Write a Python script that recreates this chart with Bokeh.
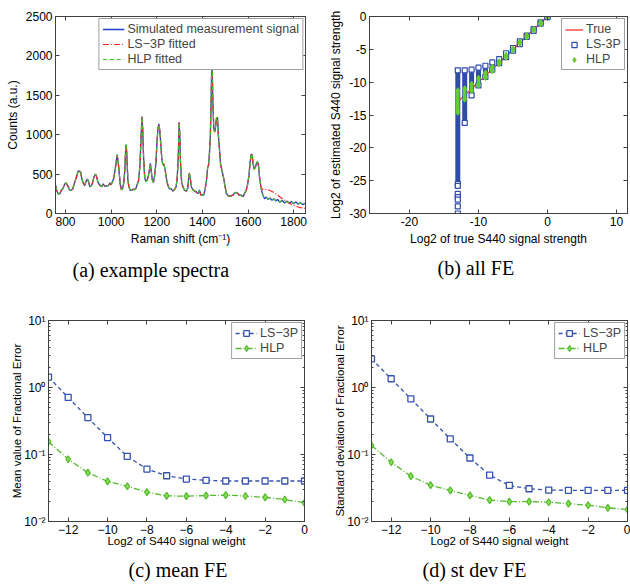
from bokeh.plotting import figure
from bokeh.layouts import column, row
from bokeh.models import (Legend, LegendItem, FixedTicker, CustomJSTickFormatter,
                          LinearAxis, LogAxis)
from bokeh.embed import file_html
from bokeh.resources import INLINE

SANS = "Liberation Sans"
SERIF = "Liberation Serif"

# ---------------- (a) example spectra ----------------
raman_shift = [
    756, 762, 768, 775, 782, 790, 797, 803, 810, 818,
    825, 832, 840, 848, 855, 860, 866, 872, 878, 884,
    890, 895, 900, 906, 912, 918, 925, 930, 935, 942,
    950, 958, 965, 972, 980, 988, 995, 1000, 1006, 1012,
    1018, 1022, 1026, 1030, 1035, 1040, 1045, 1050, 1055, 1060,
    1064, 1066, 1069, 1073, 1078, 1084, 1090, 1096, 1102, 1108,
    1114, 1120, 1126, 1131, 1135, 1138, 1142, 1147, 1152, 1158,
    1164, 1169, 1172, 1176, 1180, 1185, 1190, 1196, 1201, 1205,
    1209, 1213, 1218, 1222, 1226, 1231, 1236, 1242, 1248, 1255,
    1262, 1270, 1278, 1284, 1289, 1294, 1298, 1301, 1304, 1309,
    1315, 1322, 1330, 1336, 1340, 1343, 1347, 1352, 1358, 1365,
    1372, 1380, 1387, 1393, 1400, 1406, 1412, 1418, 1423, 1427,
    1431, 1435, 1438, 1441, 1443, 1446, 1450, 1454, 1458, 1462,
    1466, 1470, 1475, 1480, 1486, 1492, 1498, 1505, 1512, 1520,
    1528, 1535, 1542, 1548, 1555, 1562, 1570, 1578, 1585, 1592,
    1598, 1604, 1609, 1614, 1618, 1622, 1627, 1632, 1638, 1642,
    1646, 1650, 1655, 1660, 1666, 1672, 1680, 1688, 1696, 1705,
    1714, 1722, 1730, 1740, 1750, 1760, 1770, 1780, 1790, 1800,
    1810, 1820, 1830, 1840, 1850,
]
measured_signal = [
    362, 282, 250, 248, 298, 322, 378, 384, 352, 292,
    298, 312, 398, 462, 538, 540, 528, 432, 388, 352,
    410, 432, 418, 342, 350, 382, 468, 492, 488, 392,
    365, 338, 378, 342, 355, 352, 390, 362, 410, 452,
    570, 652, 748, 672, 528, 362, 308, 312, 390, 552,
    848, 872, 728, 432, 340, 292, 298, 302, 310, 312,
    370, 412, 610, 952, 1232, 1092, 728, 452, 410, 422,
    490, 572, 638, 532, 440, 392, 470, 632, 908, 1072,
    1138, 1052, 868, 692, 628, 622, 568, 442, 370, 312,
    320, 282, 310, 332, 430, 692, 1158, 992, 648, 392,
    340, 292, 285, 322, 458, 508, 448, 332, 310, 282,
    280, 252, 298, 232, 240, 232, 310, 422, 590, 612,
    770, 992, 1408, 1872, 1868, 1392, 1078, 1032, 1108, 1212,
    1218, 992, 808, 612, 548, 462, 370, 252, 230, 218,
    230, 232, 270, 262, 258, 228, 235, 212, 258, 292,
    370, 472, 648, 752, 748, 632, 568, 582, 648, 652,
    610, 472, 368, 282, 230, 188, 208, 178, 198, 168,
    188, 158, 178, 142, 168, 132, 158, 128, 152, 122,
    148, 118, 138, 112, 130,
]
hlp_fitted = [
    350, 290, 245, 260, 290, 330, 370, 390, 345, 300,
    290, 320, 390, 470, 530, 545, 520, 440, 380, 360,
    400, 440, 410, 350, 340, 390, 460, 500, 480, 400,
    355, 345, 370, 350, 345, 360, 380, 370, 400, 460,
    560, 660, 740, 680, 520, 370, 300, 320, 380, 560,
    840, 880, 720, 440, 330, 300, 290, 310, 300, 320,
    360, 420, 600, 960, 1225, 1100, 720, 460, 400, 430,
    480, 580, 630, 540, 430, 400, 460, 640, 900, 1080,
    1130, 1060, 860, 700, 620, 630, 560, 450, 360, 320,
    310, 290, 300, 340, 420, 700, 1150, 1000, 640, 400,
    330, 300, 275, 330, 450, 515, 440, 340, 300, 290,
    270, 260, 290, 240, 230, 240, 300, 430, 580, 620,
    760, 1000, 1400, 1880, 1860, 1400, 1070, 1040, 1100, 1220,
    1210, 1000, 800, 620, 540, 470, 360, 260, 220, 225,
    220, 240, 260, 270, 250, 235, 225, 220, 250, 300,
    360, 480, 640, 760, 740, 640, 560, 590, 640, 660,
    600, 480, 360, 290, 220, 195, 200, 185, 190, 175,
    180, 165, 170, 150, 160, 140, 150, 135, 145, 130,
    140, 125, 130, 120, 125,
]
# LS-3P fit follows the HLP fit up to 1650 cm-1, then departs from it
ls3p_split_shift = 1655
ls3p_tail = [
    360, 320, 300, 300, 305, 300, 292, 280,
    265, 250, 232, 210, 190, 170, 152, 135, 118, 105,
    92, 82, 75, 70, 66,
]
_split = raman_shift.index(ls3p_split_shift)
ls3p_fitted = hlp_fitted[:_split] + ls3p_tail

# ---------------- (b) all FE ----------------
true_strength = [-13, -12, -11, -10, -9, -8, -7, -6, -5, -4, -3, -2, -1, 0]
ls3p_est_max = [-8.2, -8.2, -8.1, -7.8, -7.5, -7.0, -6.5, -5.6, -4.8, -3.8, -2.9, -1.9, -0.9, 0.0]
ls3p_est_min = [-25.5, -16.2, -12.0, -10.5, -9.2, -8.1, -7.1, -6.2, -5.2, -4.2, -3.1, -2.2, -1.1, -0.1]
ls3p_outlier_x = [-13, -13, -13, -13, -13, -13]
ls3p_outlier_y = [-25.8, -27.0, -27.5, -27.9, -28.9, -30.0]
hlp_est_max = [-11.3, -11.0, -10.3, -9.4, -8.6, -7.7, -6.9, -5.9, -4.9, -3.9, -2.9, -1.9, -0.9, 0.0]
hlp_est_min = [-14.6, -12.6, -11.3, -10.4, -9.3, -8.3, -7.2, -6.2, -5.1, -4.1, -3.1, -2.1, -1.1, -0.1]
true_line_x = [-13, 0]
true_line_y = [-13, 0]

# ---------------- (c) mean FE, (d) st dev FE ----------------
signal_weight = [-13, -12, -11, -10, -9, -8, -7, -6, -5, -4, -3, -2, -1, 0]
mean_fe_ls3p = [1.43, 0.71, 0.354, 0.179, 0.094, 0.0605, 0.0482, 0.043, 0.0411, 0.0402, 0.0402, 0.0402, 0.0402, 0.0402]
mean_fe_hlp = [0.155, 0.085, 0.0535, 0.0398, 0.0336, 0.0274, 0.0241, 0.0239, 0.0244, 0.0247, 0.024, 0.0229, 0.0213, 0.019]
std_fe_ls3p = [2.68, 1.35, 0.677, 0.339, 0.171, 0.0887, 0.0491, 0.0345, 0.0308, 0.0294, 0.0292, 0.0292, 0.0292, 0.0292]
std_fe_hlp = [0.1365, 0.0766, 0.0475, 0.0349, 0.0291, 0.0245, 0.0209, 0.0198, 0.0198, 0.0194, 0.0185, 0.0175, 0.016, 0.0151]

BLUE_A = "#1f3fd0"
RED = "#ff2020"
GREEN = "#44bb33"
BLUE_B = "#2f4ca8"
GREEN_B = "#66cc33"
BLUE_C = "#3552b0"
GREEN_C = "#55bb2e"
AX = "#404040"

EMPTY_FMT = CustomJSTickFormatter(code="return '';")
PLAIN_FMT = CustomJSTickFormatter(code="return String(tick);")
LOG_FMT = CustomJSTickFormatter(code="""
const e = Math.round(Math.log10(tick));
const sup = {'-': '\u207b', '0': '\u2070', '1': '\u00b9', '2': '\u00b2', '3': '\u00b3'};
return '10' + String(e).split('').map(c => sup[c]).join('');
""")
MINUS_FMT = CustomJSTickFormatter(code="""
return tick < 0 ? '\u2212' + Math.abs(tick) : String(tick);
""")
minor_log = [m * 10.0 ** e for e in (-2, -1, 0) for m in range(2, 10)]


def style(p, tick_size="12px", label_size="12px", caption_offset=0,
          label_standoff=3, title_standoff=17):
    p.xgrid.visible = False
    p.ygrid.visible = False
    p.outline_line_color = AX
    p.outline_line_width = 1
    p.background_fill_color = "white"
    p.border_fill_color = "white"
    for ax in p.xaxis + p.yaxis:
        ax.major_tick_in = 4
        ax.major_tick_out = 0
        ax.minor_tick_line_color = None
        ax.axis_line_color = AX
        ax.major_tick_line_color = AX
        ax.major_label_text_font = SANS
        ax.major_label_text_font_size = tick_size
        ax.major_label_text_color = "black"
        ax.major_label_standoff = 3
        ax.axis_label_text_font = SANS
        ax.axis_label_text_font_size = label_size
        ax.axis_label_text_font_style = "normal"
        ax.axis_label_text_color = "black"
        ax.axis_label_standoff = label_standoff
    p.title.text_font = SERIF
    p.title.text_font_size = "20px"
    p.title.text_font_style = "normal"
    p.title.text_color = "black"
    p.title.align = "left"
    p.title.offset = caption_offset
    p.title.standoff = title_standoff


def mirror_axes(p, xticks, yticks, log=False, yminor=None):
    top = LinearAxis(ticker=FixedTicker(ticks=xticks), formatter=EMPTY_FMT)
    if log:
        right = LogAxis(ticker=FixedTicker(ticks=yticks, minor_ticks=yminor or []),
                        formatter=EMPTY_FMT)
    else:
        right = LinearAxis(ticker=FixedTicker(ticks=yticks), formatter=EMPTY_FMT)
    for ax in (top, right):
        ax.major_tick_in = 4
        ax.major_tick_out = 0
        ax.minor_tick_line_color = AX if (log and ax is right) else None
        ax.minor_tick_in = 2
        ax.minor_tick_out = 0
        ax.axis_line_color = AX
        ax.major_tick_line_color = AX
        ax.major_label_standoff = 0
        ax.major_label_text_font_size = "1px"
    p.add_layout(top, "above")
    p.add_layout(right, "right")


def style_legend(lg, size="12.5px", row_h=14, glyph_w=22):
    lg.label_text_font = SANS
    lg.label_text_font_size = size
    lg.label_height = row_h
    lg.glyph_height = row_h
    lg.glyph_width = glyph_w
    lg.label_standoff = 3
    lg.spacing = 1
    lg.padding = 3
    lg.margin = 2
    lg.border_line_color = AX
    lg.background_fill_alpha = 1.0


# ----- panel (a)
pa_xticks = [800, 1000, 1200, 1400, 1600, 1800]
pa_yticks = [0, 500, 1000, 1500, 2000, 2500]
pa = figure(width=318, height=295, x_range=(756, 1852), y_range=(0, 2500),
            output_backend="svg", toolbar_location=None,
            min_border_left=55, min_border_right=13, min_border_top=16, min_border_bottom=82,
            title="(a) example spectra", title_location="below",
            x_axis_label="Raman shift (cm⁻¹)", y_axis_label="Counts (a.u.)")
r_sig = pa.line(raman_shift, measured_signal, line_color=BLUE_A, line_width=1.3)
r_ls = pa.line(raman_shift, ls3p_fitted, line_color=RED, line_width=1.2, line_dash="6 2 1 2")
r_hlp = pa.line(raman_shift, hlp_fitted, line_color=GREEN, line_width=1.2, line_dash="4 3")
pa.xaxis.ticker = FixedTicker(ticks=pa_xticks)
pa.yaxis.ticker = FixedTicker(ticks=pa_yticks)
style(pa, caption_offset=17, title_standoff=17)
mirror_axes(pa, pa_xticks, pa_yticks)
lga = Legend(items=[LegendItem(label="Simulated measurement signal", renderers=[r_sig]),
                    LegendItem(label="LS−3P fitted", renderers=[r_ls]),
                    LegendItem(label="HLP fitted", renderers=[r_hlp])],
             location="top_right")
style_legend(lga, size="12.5px", row_h=14)
pa.add_layout(lga)

# ----- panel (b)
pb_xticks = [-20, -10, 0, 10]
pb_yticks = [0, -5, -10, -15, -20, -25, -30]
pb = figure(width=312, height=295, x_range=(-25.8, 11.6), y_range=(-30, 0),
            output_backend="svg", toolbar_location=None,
            min_border_left=51, min_border_right=3, min_border_top=15, min_border_bottom=78,
            title="(b) all FE", title_location="below",
            x_axis_label="Log2 of true S440 signal strength",
            y_axis_label="Log2 of estimated S440 signal strength")
r_true = pb.line(true_line_x, true_line_y, line_color=RED, line_width=1.2)
pb.segment(true_strength, ls3p_est_min, true_strength, ls3p_est_max,
           line_color=BLUE_B, line_width=5)
pb.scatter(true_strength, ls3p_est_max, marker="square", size=5, line_color=BLUE_B,
           fill_color="white", line_width=1.2)
r_ls_b = pb.scatter(true_strength, ls3p_est_min, marker="square", size=5, line_color=BLUE_B,
                    fill_color="white", line_width=1.2)
pb.scatter(ls3p_outlier_x, ls3p_outlier_y, marker="square", size=5, line_color=BLUE_B,
           fill_color="white", line_width=1.2)
pb.segment(true_strength, hlp_est_min, true_strength, hlp_est_max,
           line_color=GREEN_B, line_width=3.5)
pb.scatter(true_strength, hlp_est_max, marker="diamond", size=6, line_color=GREEN_B,
           fill_color=GREEN_B)
r_hlp_b = pb.scatter(true_strength, hlp_est_min, marker="diamond", size=6, line_color=GREEN_B,
                     fill_color=GREEN_B)
pb.xaxis.ticker = FixedTicker(ticks=pb_xticks)
pb.yaxis.ticker = FixedTicker(ticks=pb_yticks)
pb.xaxis.formatter = PLAIN_FMT
pb.yaxis.formatter = PLAIN_FMT
style(pb, caption_offset=68, title_standoff=13)
mirror_axes(pb, pb_xticks, pb_yticks)
lgb = Legend(items=[LegendItem(label="True", renderers=[r_true]),
                    LegendItem(label="LS-3P", renderers=[r_ls_b]),
                    LegendItem(label="HLP", renderers=[r_hlp_b])],
             location=(192, 143))
style_legend(lgb, size="12.5px", row_h=13, glyph_w=18)
lgb.margin = 0
pb.add_layout(lgb)


def fe_panel(ls_vals, hlp_vals, ylabel, caption, width, left, right, offset):
    xticks = [-12, -10, -8, -6, -4, -2, 0]
    yticks = [0.01, 0.1, 1, 10]
    p = figure(width=width, height=292,
               x_range=(-13, 0), y_range=(0.01, 10), y_axis_type="log",
               output_backend="svg", toolbar_location=None,
               min_border_top=25, min_border_bottom=64,
               min_border_left=left, min_border_right=right,
               title=caption, title_location="below",
               x_axis_label="Log2 of S440 signal weight", y_axis_label=ylabel)
    l1 = p.line(signal_weight, ls_vals, line_color=BLUE_C, line_width=1.3, line_dash="4 3")
    s1 = p.scatter(signal_weight, ls_vals, marker="square", size=6, line_color=BLUE_C,
                   fill_color="white", line_width=1.3)
    l2 = p.line(signal_weight, hlp_vals, line_color=GREEN_C, line_width=1.3, line_dash="6 2 1 2")
    s2 = p.scatter(signal_weight, hlp_vals, marker="diamond", size=7, line_color=GREEN_C,
                   fill_color="#88dd55", line_width=1.2)
    p.xaxis.ticker = FixedTicker(ticks=xticks)
    p.xaxis.formatter = MINUS_FMT
    p.yaxis.ticker = FixedTicker(ticks=yticks, minor_ticks=minor_log)
    p.yaxis.formatter = LOG_FMT
    style(p, tick_size="12px", label_size="11.5px", caption_offset=offset,
          label_standoff=-2, title_standoff=14)
    p.yaxis.minor_tick_line_color = AX
    p.yaxis.minor_tick_in = 2
    p.yaxis.minor_tick_out = 0
    mirror_axes(p, xticks, yticks, log=True, yminor=minor_log)
    lg = Legend(items=[LegendItem(label="LS−3P", renderers=[l1, s1]),
                       LegendItem(label="HLP", renderers=[l2, s2])],
                location="top_right")
    style_legend(lg, size="12.5px", row_h=14)
    p.add_layout(lg)
    return p


pc = fe_panel(mean_fe_ls3p, mean_fe_hlp, "Mean value of Fractional Error", "(c) mean FE",
              318, 48, 14, 80)
pd = fe_panel(std_fe_ls3p, std_fe_hlp, "Standard deviation of Fractional Error", "(d) st dev FE",
              312, 53, 3, 51)

layout = column(row(pa, pb), row(pc, pd))
open("out.html", "w").write(file_html(layout, INLINE))
